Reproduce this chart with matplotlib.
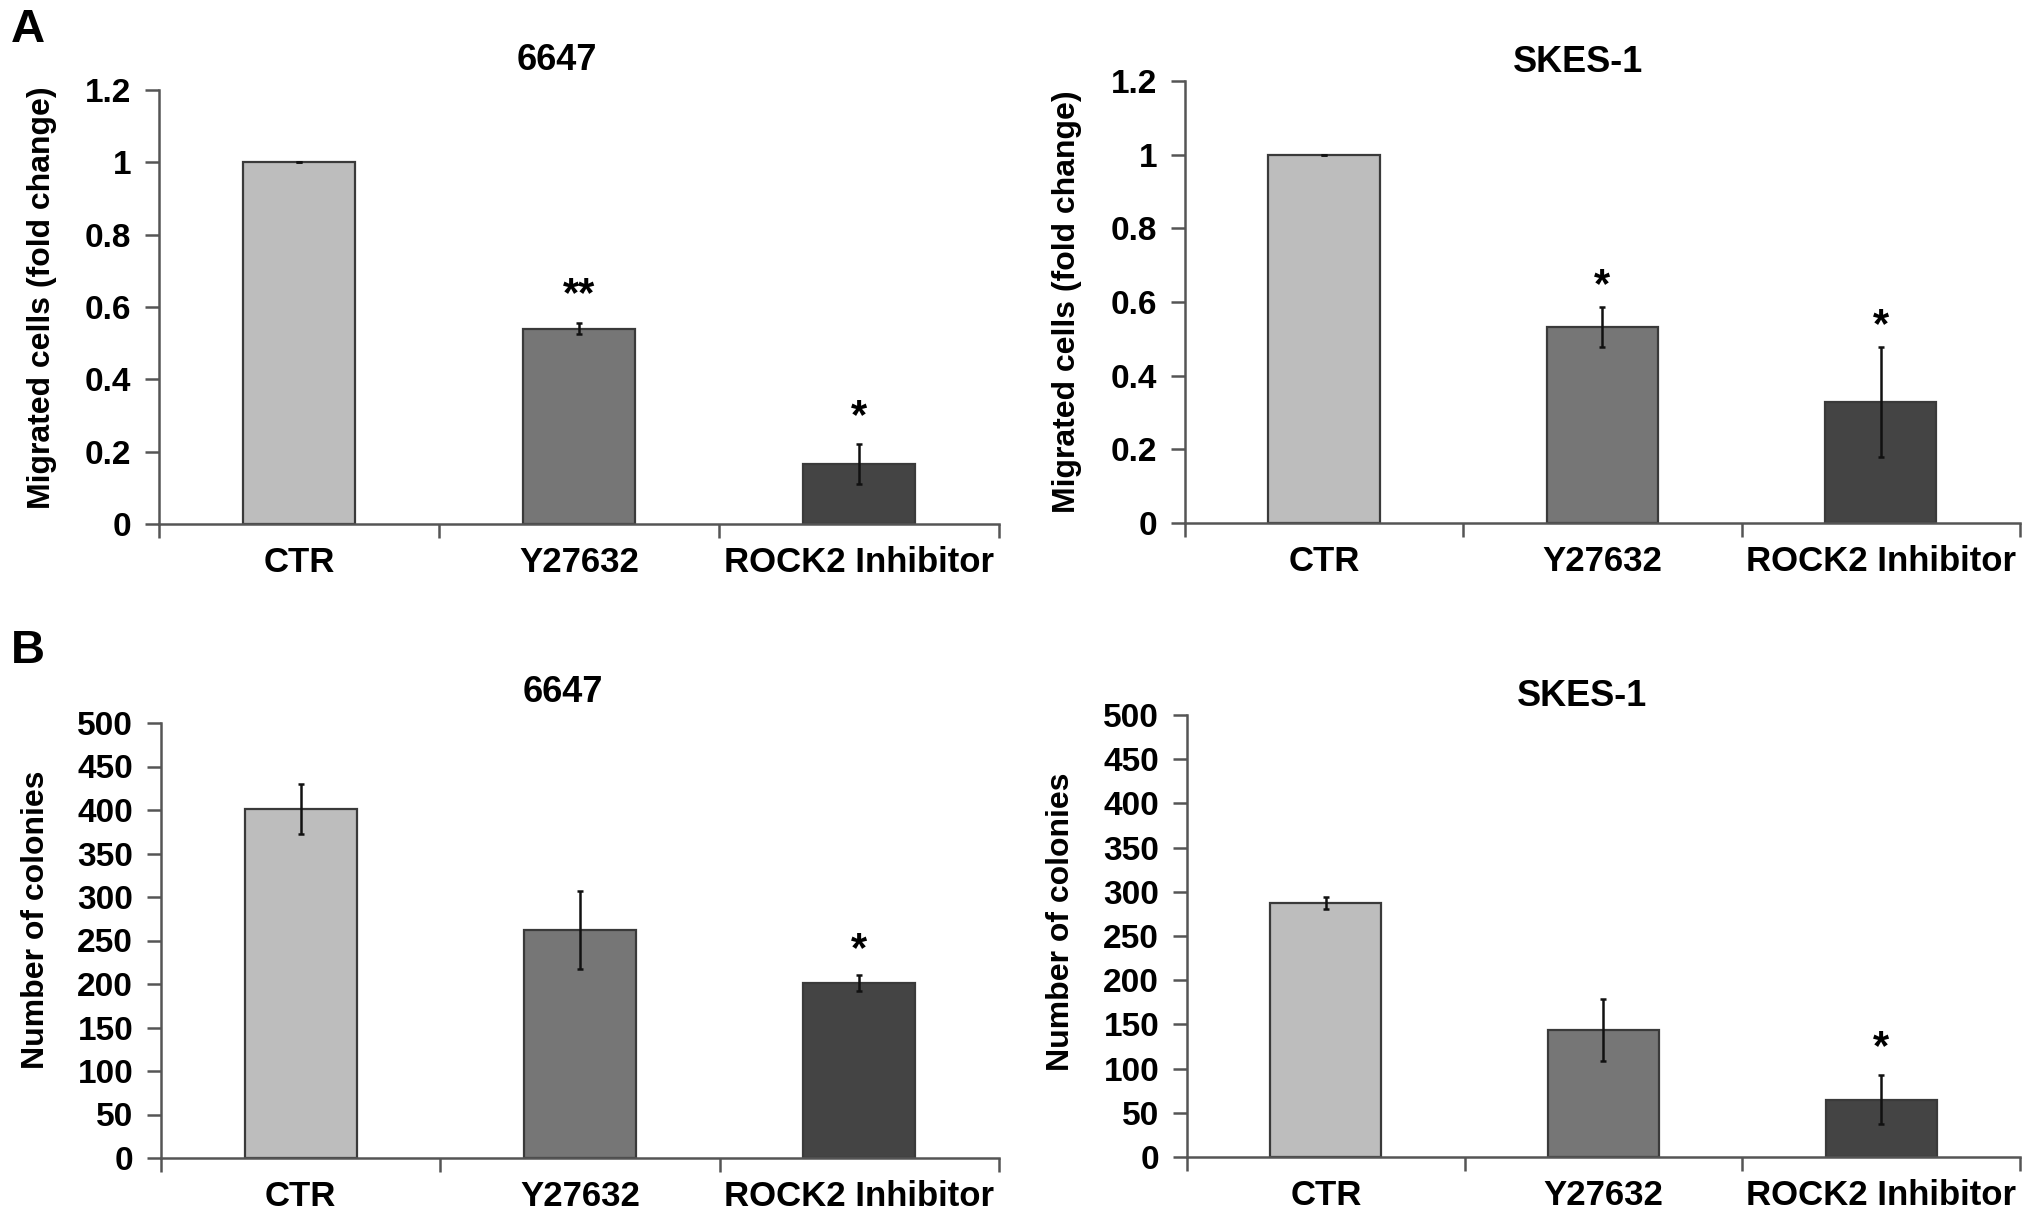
import matplotlib
matplotlib.use("Agg")
import matplotlib.pyplot as plt
import numpy as np

plt.rcParams['font.family'] = ['Liberation Sans', 'DejaVu Sans']
plt.rcParams['font.weight'] = 'bold'

categories = ["CTR", "Y27632", "ROCK2 Inhibitor"]
bar_colors = ["#bdbdbd", "#767676", "#444444"]

# Panel A: migration (fold change)
mig_6647 = [1.0, 0.54, 0.165]
mig_6647_err = [0.0, 0.016, 0.055]
mig_6647_sig = ["", "**", "*"]

mig_skes = [1.0, 0.533, 0.328]
mig_skes_err = [0.0, 0.054, 0.149]
mig_skes_sig = ["", "*", "*"]

# Panel B: colonies
col_6647 = [401, 262, 201]
col_6647_err = [29, 45, 9]
col_6647_sig = ["", "", "*"]

col_skes = [287, 144, 65]
col_skes_err = [7, 35, 28]
col_skes_sig = ["", "", "*"]

W, H = 2031, 1219
fig = plt.figure(figsize=(W / 100, H / 100), dpi=100)


def px_axes(x0, x1, ytop, ybot):
    return fig.add_axes([x0 / W, 1 - ybot / H, (x1 - x0) / W, (ybot - ytop) / H])


def draw(ax, vals, errs, sigs, ymax, ystep, ticklabels, title, ylabel,
         title_xy, ylabel_xy, star_off):
    x = np.arange(len(categories))
    ax.bar(x, vals, width=0.4, color=bar_colors, edgecolor="#3a3a3a",
           linewidth=1.6, zorder=2)
    ax.errorbar(x, vals, yerr=errs, fmt="none", ecolor="#111111",
                elinewidth=1.8, capsize=2.5, capthick=1.8, zorder=3)
    for xi, v, e, s in zip(x, vals, errs, sigs):
        if s:
            ax.annotate(s, (xi, v + e), xytext=(0, star_off),
                        textcoords="offset points", ha="center", va="center",
                        fontsize=30, fontweight="bold")
    ax.set_xlim(-0.5, 2.5)
    ax.set_ylim(0, ymax)
    ax.set_yticks(np.arange(0, ymax + ystep / 2, ystep))
    ax.set_yticklabels(ticklabels)
    ax.set_xticks([-0.5, 0.5, 1.5, 2.5])
    ax.set_xticklabels([])
    ax.set_xticks(x, minor=True)
    ax.set_xticklabels(categories, minor=True, fontsize=25, fontweight="bold")
    ax.tick_params(axis="x", which="minor", length=0, pad=16)
    ax.tick_params(axis="x", which="major", length=10, width=1.8,
                   color="#555555", direction="out")
    ax.tick_params(axis="y", length=10, width=1.8, color="#555555",
                   direction="out", labelsize=24, pad=10)
    for lbl in ax.get_yticklabels():
        lbl.set_fontweight("bold")
    for sp in ["top", "right"]:
        ax.spines[sp].set_visible(False)
    for sp in ["left", "bottom"]:
        ax.spines[sp].set_color("#555555")
        ax.spines[sp].set_linewidth(1.8)
    fig.text(title_xy[0] / W, 1 - title_xy[1] / H, title, ha="center",
             va="center", fontsize=26, fontweight="bold")
    fig.text(ylabel_xy[0] / W, 1 - ylabel_xy[1] / H, ylabel, ha="center",
             va="center", rotation=90, fontsize=23, fontweight="bold")


mig_ticks = ["0", "0.2", "0.4", "0.6", "0.8", "1", "1.2"]
col_ticks = [str(v) for v in range(0, 501, 50)]

axA1 = px_axes(159, 999, 90, 524)
draw(axA1, mig_6647, mig_6647_err, mig_6647_sig, 1.2, 0.2, mig_ticks,
     "6647", "Migrated cells (fold change)", (557, 60), (42, 298), 20)

axA2 = px_axes(1185, 2020, 81, 523)
draw(axA2, mig_skes, mig_skes_err, mig_skes_sig, 1.2, 0.2, mig_ticks,
     "SKES-1", "Migrated cells (fold change)", (1578, 63), (1067, 302), 15)

axB1 = px_axes(161, 999, 723, 1158)
draw(axB1, col_6647, col_6647_err, col_6647_sig, 500, 50, col_ticks,
     "6647", "Number of colonies", (563, 692), (36, 920), 18)

axB2 = px_axes(1187, 2020, 715, 1157)
draw(axB2, col_skes, col_skes_err, col_skes_sig, 500, 50, col_ticks,
     "SKES-1", "Number of colonies", (1582, 696), (1061, 922), 19)

fig.text(28 / W, 1 - 30 / H, "A", ha="center", va="center", fontsize=34,
         fontweight="bold")
fig.text(28 / W, 1 - 651 / H, "B", ha="center", va="center", fontsize=34,
         fontweight="bold")

fig.savefig("out.png", dpi=100)
